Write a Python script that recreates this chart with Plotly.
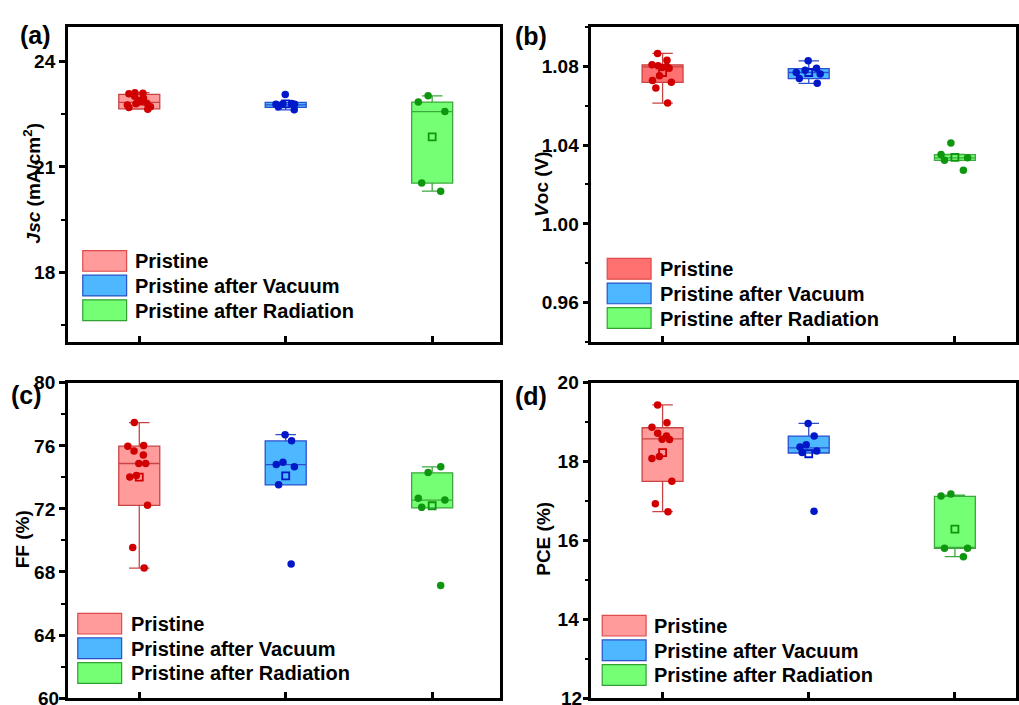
import plotly.graph_objects as go

W, H = 1019, 705

groups = ["Pristine", "Pristine after Vacuum", "Pristine after Radiation"]
positions = [1, 2, 3]

# ---- (a) Jsc ----
jsc_pristine = [23.12, 23.10, 23.09, 23.02, 22.96, 22.86, 22.82, 22.80, 22.77, 22.72, 22.70, 22.65]
jsc_vacuum = [23.07, 22.81, 22.80, 22.79, 22.79, 22.72, 22.63]
jsc_radiation = [23.03, 22.85, 22.58, 20.54, 20.31]
jsc_q1 = [22.66, 22.70, 20.54]
jsc_median = [22.84, 22.77, 22.58]
jsc_q3 = [23.07, 22.84, 22.85]
jsc_lower = [22.65, 22.63, 20.31]
jsc_upper = [23.12, 22.84, 23.03]
jsc_mean = [22.88, 22.80, 21.86]

# ---- (b) Voc ----
voc_pristine = [1.0865, 1.0830, 1.0807, 1.0802, 1.0798, 1.0793, 1.0790, 1.0752, 1.0727, 1.0718, 1.0690, 1.0613]
voc_vacuum = [1.0827, 1.0790, 1.0780, 1.0768, 1.0760, 1.0738, 1.0713]
voc_radiation = [1.0410, 1.0352, 1.0335, 1.0323, 1.0272]
voc_q1 = [1.0718, 1.0737, 1.0322]
voc_median = [1.0797, 1.0768, 1.0335]
voc_q3 = [1.0807, 1.0788, 1.0351]
voc_lower = [1.0613, 1.0713, 1.0322]
voc_upper = [1.0865, 1.0827, 1.0352]
voc_mean = [1.0768, 1.0768, 1.0338]

# ---- (c) FF ----
ff_pristine = [77.48, 76.02, 75.98, 75.67, 75.42, 74.88, 74.88, 74.12, 74.02, 72.23, 69.56, 68.25]
ff_vacuum = [76.71, 76.33, 74.96, 74.81, 74.67, 73.54, 68.50]
ff_radiation = [74.67, 74.31, 72.67, 72.56, 72.10, 67.14]
ff_q1 = [72.23, 73.52, 72.06]
ff_median = [74.88, 74.81, 72.56]
ff_q3 = [75.98, 76.31, 74.29]
ff_lower = [68.25, 73.52, 72.06]
ff_upper = [77.48, 76.71, 74.67]
ff_mean = [74.02, 74.10, 72.20]

# ---- (d) PCE ----
pce_pristine = [19.44, 18.99, 18.87, 18.72, 18.65, 18.57, 18.56, 18.13, 18.08, 17.50, 16.93, 16.73]
pce_vacuum = [18.97, 18.65, 18.43, 18.37, 18.27, 18.23, 16.74]
pce_radiation = [17.18, 17.13, 15.80, 15.80, 15.59]
pce_q1 = [17.50, 18.22, 15.80]
pce_median = [18.58, 18.35, 15.80]
pce_q3 = [18.86, 18.65, 17.12]
pce_lower = [16.73, 18.22, 15.59]
pce_upper = [19.44, 18.97, 17.15]
pce_mean = [18.23, 18.20, 16.29]

# tick labels
jsc_ticks = [18, 21, 24]
voc_ticks = [0.96, 1.00, 1.04, 1.08]
ff_ticks = [60, 64, 68, 72, 76, 80]
pce_ticks = [12, 14, 16, 18, 20]

FONT = "Arial, Liberation Sans, sans-serif"
fill_default = ["#FF9B9B", "#4DB8FF", "#75FF75"]
fill_b = ["#FF7070", "#4DB8FF", "#75FF75"]
edge_colors = ["#C84444", "#2B4FD0", "#3DA83D"]
point_colors = ["#D00000", "#0018C8", "#0E960E"]
legend_edges = ["#E04A4A", "#2850C8", "#32A032"]

BOX_W = 0.28


def px_x(x):
    return x / W


def px_y(y):
    return 1 - y / H


panels = [
    dict(ax="", pts=[jsc_pristine, jsc_vacuum, jsc_radiation], q1=jsc_q1, med=jsc_median,
         q3=jsc_q3, lo=jsc_lower, hi=jsc_upper, mean=jsc_mean, fills=fill_default),
    dict(ax="2", pts=[voc_pristine, voc_vacuum, voc_radiation], q1=voc_q1, med=voc_median,
         q3=voc_q3, lo=voc_lower, hi=voc_upper, mean=voc_mean, fills=fill_b),
    dict(ax="3", pts=[ff_pristine, ff_vacuum, ff_radiation], q1=ff_q1, med=ff_median,
         q3=ff_q3, lo=ff_lower, hi=ff_upper, mean=ff_mean, fills=fill_default),
    dict(ax="4", pts=[pce_pristine, pce_vacuum, pce_radiation], q1=pce_q1, med=pce_median,
         q3=pce_q3, lo=pce_lower, hi=pce_upper, mean=pce_mean, fills=fill_default),
]

fig = go.Figure()

for p in panels:
    xa, ya = "x" + p["ax"], "y" + p["ax"]
    for i in range(3):
        # box from precomputed statistics
        fig.add_trace(go.Box(
            x=[positions[i]], q1=[p["q1"][i]], median=[p["med"][i]], q3=[p["q3"][i]],
            lowerfence=[p["lo"][i]], upperfence=[p["hi"][i]],
            width=BOX_W, whiskerwidth=0.5, fillcolor=p["fills"][i],
            line=dict(color=edge_colors[i], width=1.3), boxpoints=False,
            showlegend=False, hoverinfo="skip", xaxis=xa, yaxis=ya, name=groups[i]))
        # raw data points (jittered)
        n = len(p["pts"][i])
        fig.add_trace(go.Box(
            x=[positions[i]] * n, y=p["pts"][i], boxpoints="all", jitter=0.8, pointpos=0,
            width=BOX_W, fillcolor="rgba(0,0,0,0)", line=dict(width=0, color="rgba(0,0,0,0)"),
            marker=dict(color=point_colors[i], size=7.5, line=dict(width=0)),
            showlegend=False, xaxis=xa, yaxis=ya, name=groups[i]))
    # mean markers
    fig.add_trace(go.Scatter(
        x=positions, y=p["mean"], mode="markers",
        marker=dict(symbol="square-open", size=7, color=point_colors, line=dict(width=1.8)),
        showlegend=False, xaxis=xa, yaxis=ya))

# geometry (pixels)
left_x = [68, 501]
right_x = [593, 1019]
top_y = [17, 337]
bot_y = [378, 698]

dom = {
    "": (left_x, top_y), "2": (right_x, top_y), "3": (left_x, bot_y), "4": (right_x, bot_y)
}
xranges = {"": [0.512, 3.46], "2": [0.512, 3.418], "3": [0.512, 3.46], "4": [0.512, 3.418]}
yranges = {"": [16, 25], "2": [0.94, 1.10], "3": [60, 80.01], "4": [12, 20.005]}
yticks = {"": jsc_ticks, "2": voc_ticks, "3": ff_ticks, "4": pce_ticks}
yminor = {"": (18, 1.5), "2": (0.96, 0.02), "3": (60, 2), "4": (12, 1)}
yfmt = {"": "d", "2": ".2f", "3": "d", "4": "d"}

tickfont = dict(family=FONT, size=19, color="black", weight="bold")
layout = dict(
    width=W, height=H, margin=dict(l=0, r=0, t=0, b=0),
    paper_bgcolor="white", plot_bgcolor="white", boxmode="overlay",
    font=dict(family=FONT, color="black"),
)
for k, (xs, ys) in dom.items():
    layout["xaxis" + k] = dict(
        domain=[px_x(xs[0]), px_x(xs[1])], range=xranges[k], anchor="y" + k,
        tickmode="array", tickvals=positions, showticklabels=False,
        ticks="inside", ticklen=6, tickwidth=2.5, tickcolor="black",
        showline=True, linewidth=2.5, linecolor="black", mirror=True,
        showgrid=False, zeroline=False, fixedrange=True)
    layout["yaxis" + k] = dict(
        domain=[px_y(ys[1]), px_y(ys[0])], range=yranges[k], anchor="x" + k,
        tickmode="array", tickvals=yticks[k], tickformat=yfmt[k],
        ticks="outside", ticklen=6, tickwidth=2.5, tickcolor="black", tickfont=tickfont,
        minor=dict(tickmode="linear", tick0=yminor[k][0], dtick=yminor[k][1], ticks="outside",
                   ticklen=4, tickwidth=2, tickcolor="black", showgrid=False),
        showline=True, linewidth=2.5, linecolor="black", mirror=True,
        showgrid=False, zeroline=False, fixedrange=True)
fig.update_layout(**layout)

annotations = []
shapes = []

# bottom tick labels that sit on the page edge (plotly hides them when they overflow)
for yref, val, xr in [("y3", ff_ticks[0], 61), ("y4", pce_ticks[0], 586)]:
    annotations.append(dict(text=str(val), x=px_x(xr), y=val, xref="paper", yref=yref,
                            xanchor="right", yanchor="middle", showarrow=False,
                            font=tickfont))

# panel labels
for lbl, (cx, cy) in zip(["(a)", "(b)", "(c)", "(d)"], [(36, 25), (533, 26), (27, 391), (533, 392)]):
    annotations.append(dict(text=lbl, x=px_x(cx), y=px_y(cy), xref="paper", yref="paper",
                            xanchor="center", yanchor="middle", showarrow=False,
                            font=dict(family=FONT, size=25, color="black", weight="bold")))

# y-axis titles
titles = [("<i>Jsc</i> (mA/cm<sup>2</sup>)", 32, 176), ("<i>V</i>oc (V)", 543, 177),
          ("FF (%)", 22, 537), ("PCE (%)", 545, 536)]
for t, cx, cy in titles:
    annotations.append(dict(text=t, x=px_x(cx), y=px_y(cy), xref="paper", yref="paper",
                            xanchor="center", yanchor="middle", textangle=-90, showarrow=False,
                            font=dict(family=FONT, size=19, color="black", weight="bold")))

# legends (swatch boxes + labels)
legend_pos = [  # swatch x0, x1, row tops, text x
    (83, 127, [244, 269, 294], 133, fill_default),
    (609, 653, [252, 277, 302], 660, fill_b),
    (78, 122, [612, 637, 662], 129, fill_default),
    (604, 648, [614, 639, 664], 654, fill_default),
]
for x0, x1, rows, tx, fills in legend_pos:
    for i, ry in enumerate(rows):
        shapes.append(dict(type="rect", xref="paper", yref="paper",
                           x0=px_x(x0), x1=px_x(x1), y0=px_y(ry + 21), y1=px_y(ry),
                           fillcolor=fills[i], line=dict(color=legend_edges[i], width=1.2)))
        annotations.append(dict(text=groups[i], x=px_x(tx), y=px_y(ry + 11), xref="paper",
                                yref="paper", xanchor="left", yanchor="middle", showarrow=False,
                                font=dict(family=FONT, size=20, color="black", weight="bold")))

fig.update_layout(annotations=annotations, shapes=shapes)
fig.write_html("out.html")
